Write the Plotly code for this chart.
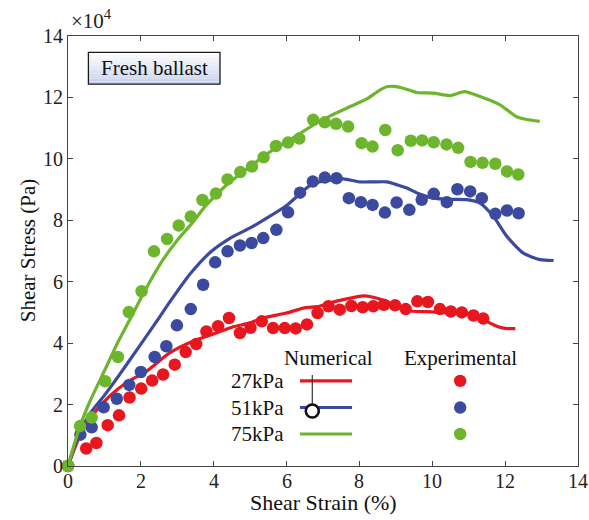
import plotly.graph_objects as go

# Shear strain (%) and shear stress (x10^4 Pa)
# Experimental results
strain_exp_27 = [0, 0.50, 0.78, 1.09, 1.40, 1.69, 2.01, 2.31, 2.61, 2.93, 3.23, 3.52, 3.80, 4.12, 4.42,
                 4.72, 5.01, 5.32, 5.63, 5.95, 6.25, 6.56, 6.85, 7.15, 7.46, 7.78, 8.09, 8.38, 8.67,
                 8.98, 9.27, 9.59, 9.88, 10.21, 10.51, 10.81, 11.13, 11.40]
stress_exp_27 = [0, 0.57, 0.75, 1.33, 1.65, 2.23, 2.52, 2.78, 2.98, 3.30, 3.71, 3.97, 4.38, 4.55, 4.82,
                 4.33, 4.50, 4.71, 4.49, 4.49, 4.48, 4.61, 4.98, 5.20, 5.09, 5.21, 5.17, 5.20, 5.25,
                 5.23, 5.11, 5.36, 5.34, 5.11, 5.03, 5.00, 4.90, 4.80]

strain_exp_51 = [0, 0.34, 0.65, 0.98, 1.34, 1.68, 2.00, 2.38, 2.70, 2.99, 3.37, 3.71, 4.04, 4.38, 4.72,
                 5.04, 5.36, 5.72, 6.04, 6.37, 6.72, 7.05, 7.37, 7.71, 8.04, 8.36, 8.70, 9.02, 9.37,
                 9.71, 10.04, 10.40, 10.69, 11.04, 11.36, 11.73, 12.05, 12.37]
stress_exp_51 = [0, 1.02, 1.26, 1.91, 2.19, 2.64, 3.06, 3.55, 3.90, 4.58, 5.11, 5.90, 6.63, 6.99, 7.18,
                 7.26, 7.42, 7.69, 8.26, 8.90, 9.26, 9.39, 9.37, 8.72, 8.59, 8.50, 8.25, 8.58, 8.34,
                 8.67, 8.86, 8.59, 9.01, 8.94, 8.72, 8.21, 8.32, 8.23]

strain_exp_75 = [0, 0.33, 0.65, 1.02, 1.37, 1.67, 2.02, 2.36, 2.72, 3.04, 3.37, 3.69, 4.06, 4.38, 4.73,
                 5.05, 5.37, 5.71, 6.04, 6.35, 6.73, 7.05, 7.36, 7.69, 8.06, 8.36, 8.71, 9.05, 9.41,
                 9.72, 10.04, 10.39, 10.71, 11.05, 11.38, 11.73, 12.05, 12.36]
stress_exp_75 = [0, 1.30, 1.58, 2.76, 3.55, 5.01, 5.69, 6.99, 7.39, 7.83, 8.12, 8.66, 8.87, 9.33, 9.57,
                 9.75, 10.05, 10.42, 10.53, 10.66, 11.27, 11.19, 11.14, 11.05, 10.51, 10.40, 10.94, 10.28, 10.59,
                 10.60, 10.54, 10.47, 10.36, 9.90, 9.87, 9.84, 9.59, 9.49]

# Numerical (DEM) results
strain_num_27 = [0, 0.32, 0.68, 1.14, 1.60, 2.15, 2.79, 3.43, 4.07, 4.50, 5.00, 5.36, 6.00, 6.46, 6.90,
                 7.19, 7.65, 8.10, 8.29, 8.75, 9.21, 9.57, 10.00, 10.49, 10.95, 11.40, 11.77, 12.00, 12.28]
stress_num_27 = [0, 0.97, 1.67, 2.27, 2.71, 3.08, 3.68, 4.06, 4.33, 4.52, 4.66, 4.82, 4.98, 5.14, 5.20,
                 5.31, 5.44, 5.54, 5.52, 5.36, 5.09, 5.03, 5.02, 4.98, 4.98, 4.76, 4.55, 4.48, 4.47]

strain_num_51 = [0, 0.30, 0.60, 1.00, 1.40, 1.90, 2.40, 2.80, 3.35, 3.90, 4.50, 5.00, 5.50, 6.00, 6.40,
                 6.70, 7.00, 7.56, 8.00, 8.37, 8.75, 9.05, 9.30, 9.60, 10.03, 10.50, 10.95, 11.31, 11.68,
                 12.05, 12.50, 12.96, 13.33]
stress_num_51 = [0, 1.05, 1.70, 2.30, 2.95, 3.80, 4.65, 5.35, 6.25, 6.95, 7.45, 7.75, 8.10, 8.48, 8.90,
                 9.18, 9.27, 9.35, 9.25, 9.25, 9.25, 9.15, 9.05, 8.88, 8.72, 8.68, 8.67, 8.56, 8.12,
                 7.47, 6.93, 6.72, 6.69]

strain_num_75 = [0, 0.30, 0.60, 1.00, 1.40, 1.80, 2.20, 2.60, 3.00, 3.40, 3.80, 4.35, 5.00, 5.63, 6.20,
                 6.73, 7.20, 7.65, 8.20, 8.56, 8.75, 8.95, 9.20, 9.57, 10.03, 10.49, 10.88, 11.31, 11.86,
                 12.10, 12.30, 12.60, 12.95]
stress_num_75 = [0, 1.20, 2.10, 3.10, 4.10, 5.00, 5.90, 6.70, 7.35, 7.90, 8.50, 9.15, 9.75, 10.30, 10.70,
                 11.10, 11.40, 11.65, 11.95, 12.24, 12.35, 12.36, 12.30, 12.16, 12.14, 12.06, 12.19, 12.03, 11.76,
                 11.55, 11.38, 11.28, 11.22]

pressures = ["27kPa", "51kPa", "75kPa"]
colors = ["#e8161e", "#3b4a9f", "#6db52d"]
tick_vals = [0, 2, 4, 6, 8, 10, 12, 14]

FONT = "Liberation Serif, Times New Roman, serif"

series = [
    (strain_exp_27, stress_exp_27, strain_num_27, stress_num_27),
    (strain_exp_51, stress_exp_51, strain_num_51, stress_num_51),
    (strain_exp_75, stress_exp_75, strain_num_75, stress_num_75),
]

fig = go.Figure()
for (xe, ye, xn, yn), col, name in zip(series, colors, pressures):
    fig.add_trace(go.Scatter(x=xe, y=ye, mode="markers", name=name + " exp",
                             marker=dict(size=12.5, color=col, line=dict(width=0)),
                             showlegend=False, cliponaxis=False))
    fig.add_trace(go.Scatter(x=xn, y=yn, mode="lines", name=name + " num",
                             line=dict(color=col, width=3.2, shape="spline", smoothing=0.6),
                             showlegend=False))

shapes = []
annotations = []

# "Fresh ballast" label box with a soft vertical gradient
box_x0, box_x1 = 0.040, 0.298
box_y0, box_y1 = 0.888, 0.962
n_strips = 12
top_rgb = (255, 255, 255)
bot_rgb = (196, 208, 236)
for i in range(n_strips):
    t = (i + 0.5) / n_strips
    rgb = tuple(int(round(a + (b - a) * t)) for a, b in zip(top_rgb, bot_rgb))
    ya = box_y1 - (box_y1 - box_y0) * i / n_strips
    yb = box_y1 - (box_y1 - box_y0) * (i + 1) / n_strips
    shapes.append(dict(type="rect", xref="paper", yref="paper", x0=box_x0, x1=box_x1, y0=yb, y1=ya,
                       fillcolor="rgb(%d,%d,%d)" % rgb, line=dict(width=0), layer="above"))
shapes.append(dict(type="rect", xref="paper", yref="paper", x0=box_x0, x1=box_x1, y0=box_y0, y1=box_y1,
                   fillcolor="rgba(0,0,0,0)", line=dict(color="#1a1a1a", width=1.3), layer="above"))
annotations.append(dict(text="Fresh ballast", xref="paper", yref="paper", x=(box_x0 + box_x1) / 2,
                        y=(box_y0 + box_y1) / 2, showarrow=False, xanchor="center", yanchor="middle",
                        font=dict(family=FONT, size=21, color="#111")))

# Hand-built two-column legend
annotations.append(dict(text="Numerical", xref="paper", yref="paper", x=0.51, y=0.251,
                        showarrow=False, xanchor="center", yanchor="middle",
                        font=dict(family=FONT, size=21, color="#111")))
annotations.append(dict(text="Experimental", xref="paper", yref="paper", x=0.770, y=0.251,
                        showarrow=False, xanchor="center", yanchor="middle",
                        font=dict(family=FONT, size=21, color="#111")))
row_y = [0.198, 0.136, 0.0744]
for name, col, yy in zip(pressures, colors, row_y):
    annotations.append(dict(text=name, xref="paper", yref="paper", x=0.4265, y=yy,
                            showarrow=False, xanchor="right", yanchor="middle",
                            font=dict(family=FONT, size=21, color="#111")))
    shapes.append(dict(type="line", xref="paper", yref="paper", x0=0.455, x1=0.557, y0=yy, y1=yy,
                       line=dict(color=col, width=3.2), layer="above"))
    shapes.append(dict(type="circle", xref="paper", yref="paper", xsizemode="pixel", ysizemode="pixel",
                       xanchor=0.769, yanchor=yy, x0=-6.2, x1=6.2, y0=-6.2, y1=6.2,
                       fillcolor=col, line=dict(width=0), layer="above"))

# Pointer marker drawn over the legend samples
shapes.append(dict(type="line", xref="paper", yref="paper", x0=0.479, x1=0.479, y0=0.2116, y1=0.142,
                   line=dict(color="#333", width=1.2), layer="above"))
shapes.append(dict(type="circle", xref="paper", yref="paper", xsizemode="pixel", ysizemode="pixel",
                   xanchor=0.479, yanchor=0.128, x0=-6.5, x1=6.5, y0=-6.5, y1=6.5,
                   fillcolor="white", line=dict(color="#111", width=2.6), layer="above"))

# x tick labels placed close under the axis
for v in tick_vals:
    annotations.append(dict(text=str(v), xref="x", yref="paper", x=v, y=-0.034,
                            showarrow=False, xanchor="center", yanchor="middle",
                            font=dict(family=FONT, size=20, color="#222")))

# Axis titles and exponent label
annotations.append(dict(text="Shear Strain (%)", xref="paper", yref="paper", x=0.5, y=-0.085,
                        showarrow=False, xanchor="center", yanchor="middle",
                        font=dict(family=FONT, size=22, color="#111")))
annotations.append(dict(text="Shear Stress (Pa)", xref="paper", yref="paper", x=-0.078, y=0.5,
                        showarrow=False, xanchor="center", yanchor="middle", textangle=-90,
                        font=dict(family=FONT, size=21, color="#111")))
annotations.append(dict(text="\u00d710<sup>4</sup>", xref="paper", yref="paper", x=0.002, y=1.003,
                        showarrow=False, xanchor="left", yanchor="bottom",
                        font=dict(family=FONT, size=21, color="#222")))

axis_common = dict(
    showgrid=False, zeroline=False, showline=True, linecolor="#444", linewidth=1,
    mirror="ticks", ticks="inside", ticklen=5, tickcolor="#444", tickwidth=1,
    tickvals=tick_vals, ticktext=[str(v) for v in tick_vals],
    tickfont=dict(family=FONT, size=20, color="#222"),
)

fig.update_layout(
    width=589, height=520,
    margin=dict(l=68, r=11, t=36, b=54),
    paper_bgcolor="white", plot_bgcolor="white",
    xaxis=dict(range=[0, 14], showticklabels=False, **axis_common),
    yaxis=dict(range=[0, 14], **axis_common),
    shapes=shapes, annotations=annotations,
    showlegend=False,
)

fig.write_html("out.html")
